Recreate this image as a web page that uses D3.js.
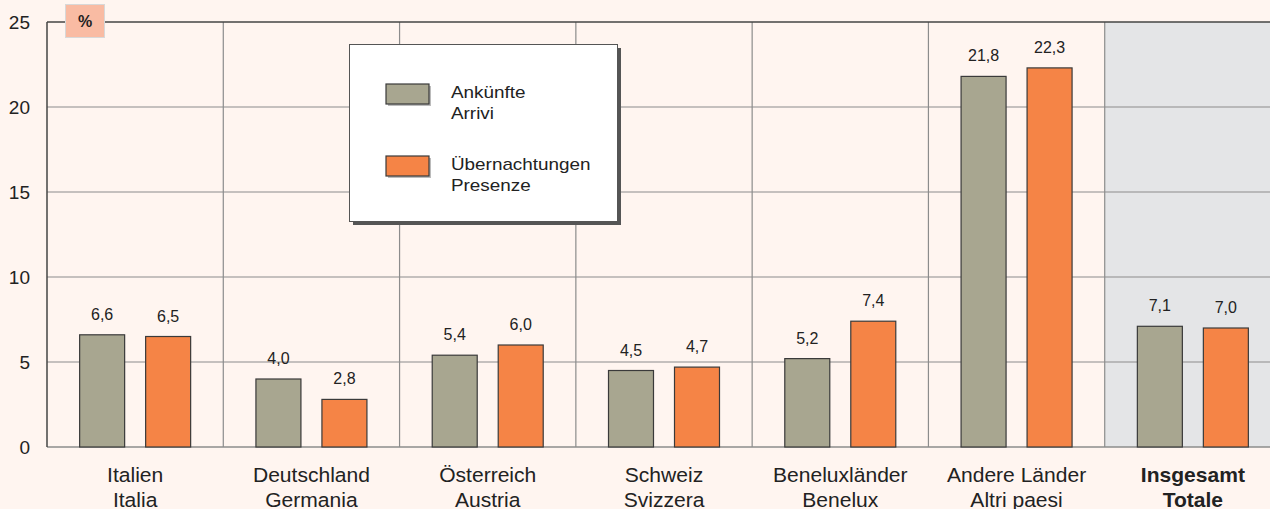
<!DOCTYPE html>
<html>
<head>
<meta charset="utf-8">
<script src="https://cdn.jsdelivr.net/npm/d3@7"></script>
<style>
  html, body { margin: 0; padding: 0; background: #fff5f0; }
  svg { display: block; font-family: "Liberation Sans", Arial, sans-serif; }
</style>
</head>
<body>
<div id="chart"></div>
<script>
const WIDTH = 1270;
const HEIGHT = 509;

const CATEGORIES_DE = ["Italien", "Deutschland", "Österreich", "Schweiz", "Beneluxländer", "Andere Länder", "Insgesamt"];
const CATEGORIES_IT = ["Italia", "Germania", "Austria", "Svizzera", "Benelux", "Altri paesi", "Totale"];
const ARRIVI = [6.6, 4.0, 5.4, 4.5, 5.2, 21.8, 7.1];
const PRESENZE = [6.5, 2.8, 6.0, 4.7, 7.4, 22.3, 7.0];
const Y_TICKS = [0, 5, 10, 15, 20, 25];

const SERIES = [
  { key: "arr", de: "Ankünfte", it: "Arrivi", values: ARRIVI, color: "#a8a690" },
  { key: "pres", de: "Übernachtungen", it: "Presenze", values: PRESENZE, color: "#f58446" },
];

const plotLeft = 47;
const plotRight = 1281; // last column runs off the right edge

const svg = d3.select("#chart").append("svg")
  .attr("width", WIDTH).attr("height", HEIGHT);

svg.append("rect").attr("width", WIDTH).attr("height", HEIGHT).attr("fill", "#fff5f0");

const x = d3.scaleBand().domain(d3.range(CATEGORIES_DE.length))
  .range([plotLeft, plotRight]).padding(0);
const y = d3.scaleLinear().domain([0, 25]).range([447, 22]);

// grey panel behind the total
svg.append("rect")
  .attr("x", x(6)).attr("y", y(25))
  .attr("width", x.bandwidth()).attr("height", y(0) - y(25))
  .attr("fill", "#e4e5e7");

// horizontal gridlines
svg.append("g").selectAll("line")
  .data(Y_TICKS.filter(d => d > 0 && d < 25))
  .join("line")
  .attr("x1", plotLeft).attr("x2", WIDTH)
  .attr("y1", d => y(d)).attr("y2", d => y(d))
  .attr("stroke", "#8c8c8c").attr("stroke-width", 1.2);

// vertical separators
svg.append("g").selectAll("line")
  .data(d3.range(1, CATEGORIES_DE.length))
  .join("line")
  .attr("x1", d => x(d)).attr("x2", d => x(d))
  .attr("y1", y(25)).attr("y2", y(0))
  .attr("stroke", "#8c8c8c").attr("stroke-width", 1.2);

// baseline
svg.append("line")
  .attr("x1", plotLeft).attr("x2", WIDTH)
  .attr("y1", y(0)).attr("y2", y(0))
  .attr("stroke", "#8c8c8c").attr("stroke-width", 1.5);

// top line and left axis
svg.append("line")
  .attr("x1", plotLeft).attr("x2", WIDTH)
  .attr("y1", y(25)).attr("y2", y(25))
  .attr("stroke", "#444").attr("stroke-width", 1.5);
svg.append("line")
  .attr("x1", plotLeft).attr("x2", plotLeft)
  .attr("y1", y(25)).attr("y2", y(0))
  .attr("stroke", "#444").attr("stroke-width", 1.5);

// y tick labels
svg.append("g").selectAll("text")
  .data(Y_TICKS)
  .join("text")
  .attr("x", 30).attr("y", d => y(d))
  .attr("dy", "0.35em")
  .attr("text-anchor", "end")
  .attr("font-size", 19)
  .attr("fill", "#222")
  .text(d => d);

// % box
svg.append("rect")
  .attr("x", 65.5).attr("y", 4.5).attr("width", 39).attr("height", 33)
  .attr("fill", "#f9bba3").attr("stroke", "#d8d8d8");
svg.append("text")
  .attr("x", 85).attr("y", 21).attr("dy", "0.35em")
  .attr("text-anchor", "middle").attr("font-size", 16).attr("font-weight", "bold")
  .attr("fill", "#222").text("%");

// bars + value labels
const barW = 45;
const offsets = [-33, 33];
SERIES.forEach((s, si) => {
  const g = svg.append("g");
  g.selectAll("rect")
    .data(s.values)
    .join("rect")
    .attr("x", (d, i) => x(i) + x.bandwidth() / 2 + offsets[si] - barW / 2)
    .attr("y", d => y(d))
    .attr("width", barW)
    .attr("height", d => y(0) - y(d))
    .attr("fill", s.color)
    .attr("stroke", "#3a3a3a").attr("stroke-width", 1.2);
  g.selectAll("text")
    .data(s.values)
    .join("text")
    .attr("x", (d, i) => x(i) + x.bandwidth() / 2 + offsets[si])
    .attr("y", d => y(d) - 15)
    .attr("text-anchor", "middle")
    .attr("font-size", 16)
    .attr("fill", "#222")
    .text(d => d3.format(".1f")(d).replace(".", ","));
});

// category labels (source font is a bit wider than Arial, so stretch slightly)
const cat = svg.append("g").selectAll("g")
  .data(CATEGORIES_DE)
  .join("g")
  .attr("transform", (d, i) => `translate(${x(i) + x.bandwidth() / 2},0) scale(1.08,1)`);
const catText = cat.append("text")
  .attr("text-anchor", "middle")
  .attr("font-size", 19.5)
  .attr("fill", "#222")
  .attr("font-weight", (d, i) => i === 6 ? "bold" : null);
catText.append("tspan").attr("x", 0).attr("y", 482).text(d => d);
catText.append("tspan").attr("x", 0).attr("y", 507).text((d, i) => CATEGORIES_IT[i]);

// legend
const lg = svg.append("g");
lg.append("rect").attr("x", 353).attr("y", 48).attr("width", 268).attr("height", 177).attr("fill", "#555");
lg.append("rect").attr("x", 349.5).attr("y", 44.5).attr("width", 268).attr("height", 177)
  .attr("fill", "#fff").attr("stroke", "#555").attr("stroke-width", 1);
SERIES.forEach((s, si) => {
  const yy = 84 + si * 72;
  lg.append("rect").attr("x", 388).attr("y", yy + 2).attr("width", 43).attr("height", 20)
    .attr("fill", "#777").attr("opacity", 0.5);
  lg.append("rect").attr("x", 386).attr("y", yy).attr("width", 43).attr("height", 20)
    .attr("fill", s.color).attr("stroke", "#3a3a3a").attr("stroke-width", 1.2);
  const t = lg.append("g").attr("transform", "translate(451,0) scale(1.18,1)")
    .append("text").attr("font-size", 16).attr("fill", "#222");
  t.append("tspan").attr("x", 0).attr("y", yy + 14).text(s.de);
  t.append("tspan").attr("x", 0).attr("y", yy + 35).text(s.it);
});
</script>
</body>
</html>
